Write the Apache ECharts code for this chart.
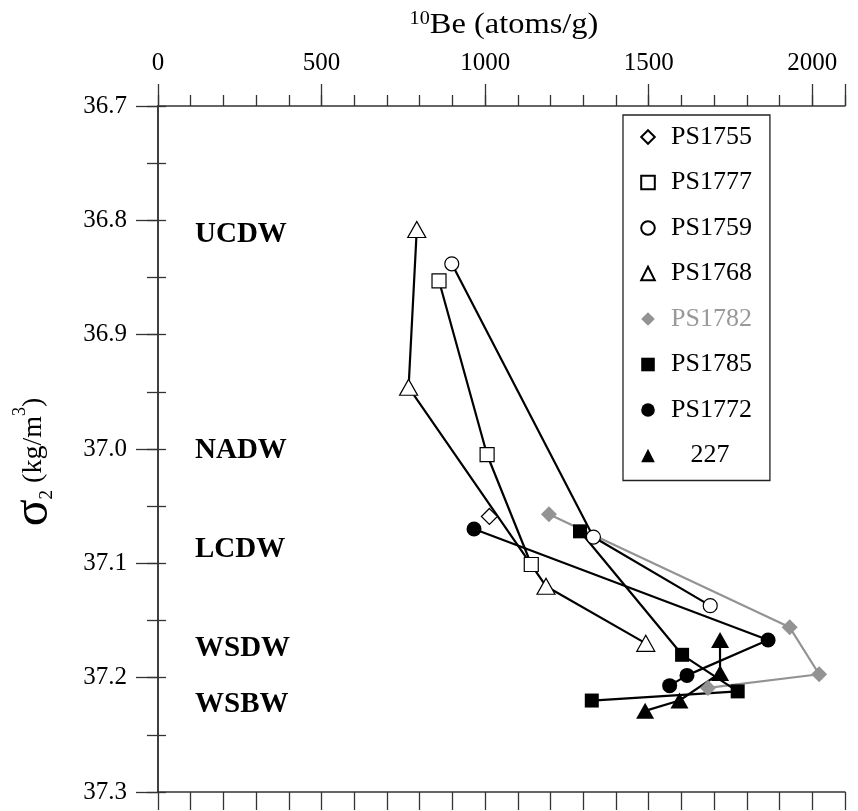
<!DOCTYPE html>
<html>
<head>
<meta charset="utf-8">
<script src="https://cdn.jsdelivr.net/npm/echarts@6.0.0/dist/echarts.min.js"></script>
<style>
html, body { margin: 0; padding: 0; background: #fff; }
#chart { width: 858px; height: 811px; }
</style>
</head>
<body>
<div id="chart"></div>
<script>
var seriesNames = ['PS1755', 'PS1777', 'PS1759', 'PS1768', 'PS1782', 'PS1785', 'PS1772', '227'];

// 10Be (atoms/g) and sigma2 (kg/m3)
var ps1755Be = [1013];
var ps1755Sigma = [37.059];
var ps1777Be = [859, 1006, 1141];
var ps1777Sigma = [36.853, 37.005, 37.101];
var ps1759Be = [898, 1331, 1688];
var ps1759Sigma = [36.838, 37.077, 37.137];
var ps1768Be = [791, 766, 1186, 1491];
var ps1768Sigma = [36.808, 36.946, 37.120, 37.170];
var ps1782Be = [1195, 1931, 2021, 1681];
var ps1782Sigma = [37.057, 37.156, 37.197, 37.209];
var ps1785Be = [1290, 1602, 1772, 1326];
var ps1785Sigma = [37.072, 37.180, 37.212, 37.220];
var ps1772Be = [966, 1865, 1617, 1564];
var ps1772Sigma = [37.070, 37.167, 37.198, 37.207];
var st227Be = [1718, 1718, 1594, 1489];
var st227Sigma = [37.167, 37.196, 37.220, 37.229];

var xTickLabels = [0, 500, 1000, 1500, 2000];
var yTickLabels = [36.7, 36.8, 36.9, 37.0, 37.1, 37.2, 37.3];
var waterMasses = ['UCDW', 'NADW', 'LCDW', 'WSDW', 'WSBW'];

var SERIF = 'Liberation Serif, Times New Roman, serif';
var chartDom = document.getElementById('chart');
var myChart = echarts.init(chartDom);

function pts(xs, ys) {
    return xs.map(function (x, i) { return [x, ys[i]]; });
}

function mkSeries(name, xs, ys, symbol, size, filled, color) {
    color = color || '#000';
    return {
        name: name,
        type: 'line',
        data: pts(xs, ys),
        symbol: symbol,
        symbolSize: size,
        showSymbol: true,
        xAxisIndex: 0,
        yAxisIndex: 0,
        lineStyle: { color: color, width: 2.2 },
        itemStyle: filled
            ? { color: color, borderColor: color, borderWidth: 0 }
            : { color: '#fff', borderColor: '#000', borderWidth: 1.2 },
        emphasis: { disabled: true },
        animation: false
    };
}

var axisCol = '#333';

function xAx(pos, interval, tickLen, labels, line) {
    return {
        type: 'value', position: pos, min: 0, max: 2100, interval: interval,
        axisLine: { show: line, lineStyle: { color: axisCol, width: 1.5 } },
        axisTick: { show: true, inside: false, length: tickLen, lineStyle: { color: axisCol, width: 1.3 } },
        axisLabel: {
            show: labels, margin: 30, color: '#000', fontFamily: SERIF, fontSize: 25,
            formatter: function (v) { return xTickLabels.indexOf(v) >= 0 ? String(v) : ''; }
        },
        splitLine: { show: false },
        minorTick: { show: false }
    };
}

function yAx(pos, interval, tickLen, labels, line) {
    return {
        type: 'value', position: pos, min: 36.7, max: 37.3, interval: interval, inverse: true,
        axisLine: { show: line, lineStyle: { color: axisCol, width: 1.5 } },
        axisTick: { show: true, inside: false, length: tickLen, lineStyle: { color: axisCol, width: 1.3 } },
        axisLabel: {
            show: labels, margin: 31, color: '#000', fontFamily: SERIF, fontSize: 25,
            formatter: function (v) {
                var hit = yTickLabels.some(function (t) { return Math.abs(t - v) < 1e-6; });
                return hit ? v.toFixed(1) : '';
            }
        },
        splitLine: { show: false },
        minorTick: { show: false }
    };
}

var option = {
    backgroundColor: '#fff',
    animation: false,
    grid: { left: 158, right: 13, top: 106, bottom: 19, containLabel: false, outerBoundsMode: 'none' },
    xAxis: [
        xAx('top', 500, 22, true, true),
        xAx('top', 100, 11, false, false),
        xAx('bottom', 100, 18, false, true)
    ],
    yAxis: [
        yAx('left', 0.1, 22, true, true),
        yAx('left', 0.05, 11, false, false),
        yAx('right', 0.05, 8, false, true)
    ],
    legend: {
        orient: 'vertical',
        left: 623,
        top: 115,
        itemWidth: 36,
        itemHeight: 17,
        itemGap: 19.5,
        padding: [9, 18, 12, 6],
        borderColor: '#222',
        borderWidth: 1.3,
        backgroundColor: '#fff',
        selectedMode: false,
        lineStyle: { opacity: 0 },
        textStyle: { fontFamily: SERIF, fontSize: 26, lineHeight: 26, color: '#000' },
        formatter: function (n) { return n === '227' ? '   227' : n; },
        data: seriesNames.map(function (n) {
            return n === 'PS1782' ? { name: n, textStyle: { color: '#999' } } : { name: n };
        })
    },
    graphic: [
        {
            type: 'text', x: 504, y: 25, scaleX: 1.12,
            style: {
                text: '{a|10}{b|Be (atoms/g)}',
                align: 'center', verticalAlign: 'middle',
                rich: {
                    a: { fontFamily: SERIF, fontSize: 18, fill: '#000', verticalAlign: 'top', lineHeight: 30 },
                    b: { fontFamily: SERIF, fontSize: 29, fill: '#000', lineHeight: 30 }
                }
            }
        },
        {
            type: 'text', x: 34, y: 462, rotation: Math.PI / 2,
            style: {
                text: '{s|σ}{d|2}{n| (kg/m}{u|3}{n|)}',
                align: 'center', verticalAlign: 'middle',
                rich: {
                    s: { fontFamily: SERIF, fontSize: 50, fill: '#000', lineHeight: 46 },
                    d: { fontFamily: SERIF, fontSize: 19, fill: '#000', verticalAlign: 'bottom', lineHeight: 32 },
                    n: { fontFamily: SERIF, fontSize: 28, fill: '#000', lineHeight: 46 },
                    u: { fontFamily: SERIF, fontSize: 18, fill: '#000', verticalAlign: 'top', lineHeight: 32 }
                }
            }
        },
        { type: 'text', x: 195, y: 235, style: { text: waterMasses[0], fontFamily: SERIF, fontSize: 29, fontWeight: 'bold', fill: '#000', verticalAlign: 'middle' } },
        { type: 'text', x: 195, y: 451, style: { text: waterMasses[1], fontFamily: SERIF, fontSize: 29, fontWeight: 'bold', fill: '#000', verticalAlign: 'middle' } },
        { type: 'text', x: 195, y: 550, style: { text: waterMasses[2], fontFamily: SERIF, fontSize: 29, fontWeight: 'bold', fill: '#000', verticalAlign: 'middle' } },
        { type: 'text', x: 195, y: 649, style: { text: waterMasses[3], fontFamily: SERIF, fontSize: 29, fontWeight: 'bold', fill: '#000', verticalAlign: 'middle' } },
        { type: 'text', x: 195, y: 705, style: { text: waterMasses[4], fontFamily: SERIF, fontSize: 29, fontWeight: 'bold', fill: '#000', verticalAlign: 'middle' } }
    ],
    series: [
        mkSeries('PS1782', ps1782Be, ps1782Sigma, 'diamond', 16, true, '#939393'),
        mkSeries('PS1755', ps1755Be, ps1755Sigma, 'diamond', 16, false),
        mkSeries('PS1777', ps1777Be, ps1777Sigma, 'rect', 14, false),
        mkSeries('PS1759', ps1759Be, ps1759Sigma, 'circle', 14, false),
        mkSeries('PS1768', ps1768Be, ps1768Sigma, 'triangle', [18, 16], false),
        mkSeries('PS1785', ps1785Be, ps1785Sigma, 'rect', 14, true),
        mkSeries('PS1772', ps1772Be, ps1772Sigma, 'circle', 15, true),
        mkSeries('227', st227Be, st227Sigma, 'triangle', [18, 16], true)
    ]
};

myChart.setOption(option);
</script>
</body>
</html>
